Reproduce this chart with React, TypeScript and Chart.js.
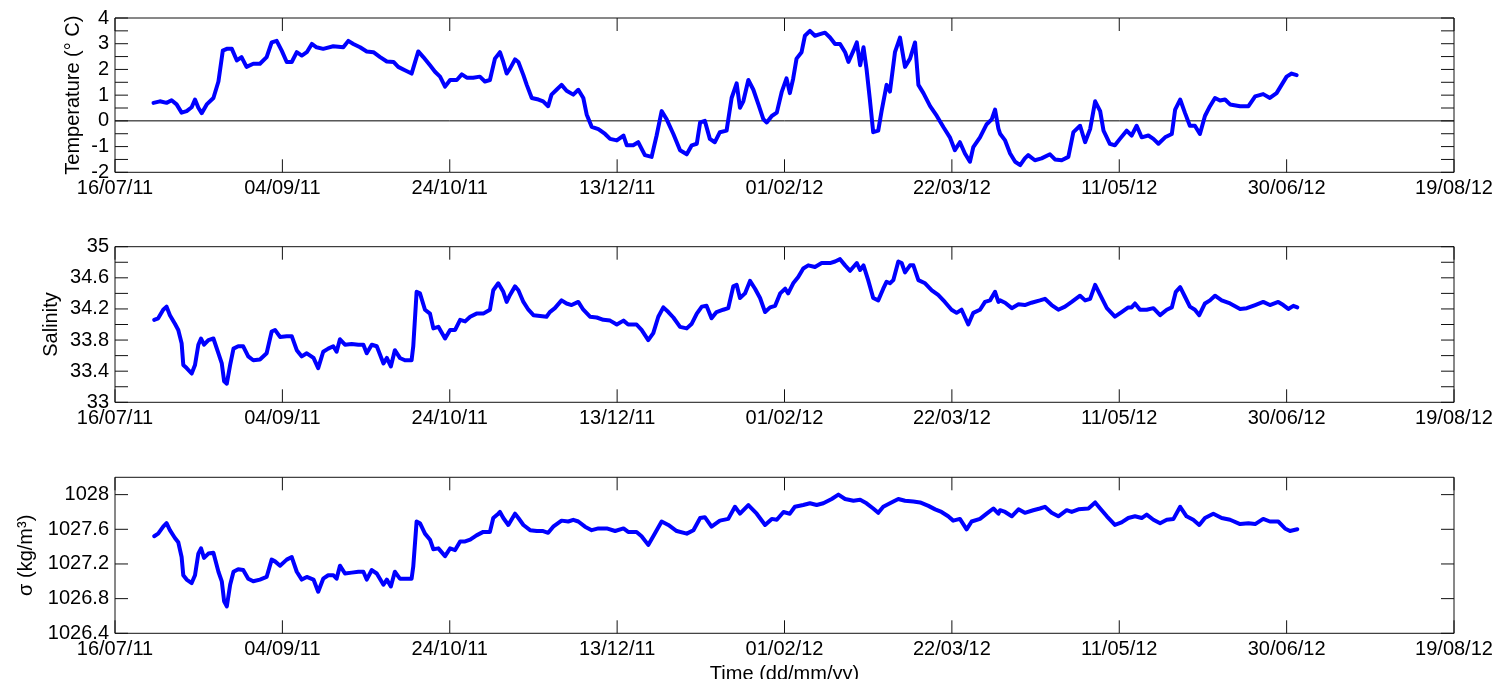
import React, { useEffect, useRef } from 'react';
import { Chart, registerables } from 'chart.js';

Chart.register(...registerables);

const FONT = "'Liberation Sans', Arial, Helvetica, sans-serif";

// x axis: days since 16/07/11
const xTickDays = [0, 50, 100, 150, 200, 250, 300, 350, 400];
const xTickLabels = ['16/07/11', '04/09/11', '24/10/11', '13/12/11', '01/02/12', '22/03/12', '11/05/12', '30/06/12', '19/08/12'];

const tempTickValues = [-2, -1.5, -1, -0.5, 0, 0.5, 1, 1.5, 2, 2.5, 3, 3.5, 4];
const tempTickLabels = ['-2', '', '-1', '', '0', '', '1', '', '2', '', '3', '', '4'];
const salTickValues = [33, 33.2, 33.4, 33.6, 33.8, 34, 34.2, 34.4, 34.6, 34.8, 35];
const salTickLabels = ['33', '', '33.4', '', '33.8', '', '34.2', '', '34.6', '', '35'];
const sigmaTickValues = [1026.4, 1026.8, 1027.2, 1027.6, 1028];
const sigmaTickLabels = ['1026.4', '1026.8', '1027.2', '1027.6', '1028'];

const tempDays = [
  11.5, 13.4, 15.4, 16.9, 18.4, 19.9, 21.4, 22.9, 23.9, 24.9,
  25.9, 27.4, 29.4, 30.9, 32.2, 33.4, 34.9, 36.4, 37.8, 39.3,
  41.3, 43.3, 45.3, 46.8, 48.3, 49.8, 51.3, 52.8, 54.3, 55.8,
  57.3, 58.8, 60.2, 62.2, 65.2, 68.2, 69.7, 71.2, 73.2, 75.2,
  77.2, 79.2, 81.2, 83.2, 84.6, 86.6, 88.6, 90.6, 92.1, 94.1,
  95.6, 97.1, 98.6, 100.1, 102.1, 103.6, 105.1, 107.0, 109.0, 110.5,
  112.0, 113.5, 115.0, 116.0, 117.0, 118.0, 119.5, 120.5, 122.0, 123.0,
  124.5, 126.5, 127.9, 129.4, 130.4, 131.9, 133.4, 134.9, 136.9, 138.4,
  139.9, 140.9, 142.4, 144.4, 146.4, 147.9, 149.9, 151.9, 152.9, 154.8,
  156.3, 158.3, 160.3, 161.8, 163.3, 164.8, 166.8, 168.8, 170.8, 172.3,
  173.8, 174.8, 176.2, 177.7, 179.2, 180.7, 182.7, 184.2, 185.7, 186.7,
  187.7, 189.2, 190.7, 192.2, 193.7, 194.7, 196.2, 197.7, 199.2, 200.6,
  201.6, 202.6, 203.6, 205.1, 206.1, 207.6, 209.1, 210.6, 212.1, 213.6,
  215.1, 216.6, 218.1, 219.1, 220.6, 221.6, 222.6, 223.6, 224.5, 225.5,
  226.5, 228.0, 229.0, 230.5, 231.5, 233.0, 234.5, 236.0, 237.5, 239.0,
  240.0, 241.5, 243.5, 245.5, 247.5, 249.4, 250.9, 252.4, 253.9, 255.4,
  256.4, 258.4, 260.4, 261.9, 262.9, 263.9, 264.4, 265.9, 267.4, 268.9,
  270.4, 271.8, 272.8, 274.8, 276.8, 279.3, 280.8, 282.8, 284.8, 286.3,
  288.3, 289.8, 291.3, 292.8, 294.3, 295.3, 297.2, 298.7, 300.2, 302.2,
  303.7, 305.2, 306.7, 308.7, 310.2, 311.7, 313.7, 315.7, 316.7, 318.2,
  319.6, 321.1, 322.6, 324.1, 325.6, 327.1, 328.6, 330.1, 331.6, 333.1,
  336.1, 338.6, 340.6, 343.0, 345.0, 347.0, 348.5, 350.0, 351.5, 353.0,
];
const tempValues = [
  0.70, 0.76, 0.70, 0.80, 0.64, 0.32, 0.38, 0.53, 0.83, 0.51,
  0.30, 0.64, 0.89, 1.53, 2.73, 2.80, 2.80, 2.35, 2.48, 2.10,
  2.22, 2.22, 2.48, 3.05, 3.11, 2.73, 2.29, 2.29, 2.67, 2.54,
  2.67, 2.99, 2.86, 2.80, 2.90, 2.86, 3.11, 2.99, 2.86, 2.70,
  2.67, 2.48, 2.31, 2.29, 2.10, 1.97, 1.84, 2.70, 2.48, 2.16,
  1.91, 1.72, 1.33, 1.59, 1.59, 1.81, 1.68, 1.68, 1.72, 1.53,
  1.59, 2.42, 2.67, 2.29, 1.84, 2.03, 2.39, 2.29, 1.78, 1.40,
  0.89, 0.83, 0.76, 0.57, 1.02, 1.21, 1.40, 1.17, 1.02, 1.21,
  0.89, 0.25, -0.23, -0.32, -0.51, -0.70, -0.76, -0.57, -0.95, -0.95,
  -0.83, -1.33, -1.40, -0.57, 0.38, 0.06, -0.51, -1.14, -1.30, -0.95,
  -0.89, -0.06, 0.00, -0.70, -0.83, -0.44, -0.38, 0.89, 1.46, 0.51,
  0.76, 1.59, 1.21, 0.64, 0.06, -0.06, 0.19, 0.32, 1.14, 1.65,
  1.08, 1.65, 2.42, 2.67, 3.31, 3.50, 3.31, 3.37, 3.43, 3.24,
  2.99, 2.99, 2.67, 2.29, 2.73, 3.05, 2.16, 2.86, 2.03, 0.83,
  -0.44, -0.38, 0.38, 1.40, 1.14, 2.67, 3.24, 2.10, 2.42, 3.05,
  1.40, 1.08, 0.57, 0.19, -0.25, -0.64, -1.14, -0.83, -1.27, -1.59,
  -1.02, -0.64, -0.13, 0.06, 0.44, -0.30, -0.50, -0.76, -1.27, -1.59,
  -1.72, -1.46, -1.33, -1.53, -1.46, -1.30, -1.50, -1.53, -1.40, -0.44,
  -0.19, -0.83, -0.32, 0.76, 0.38, -0.38, -0.89, -0.95, -0.70, -0.38,
  -0.57, -0.19, -0.64, -0.57, -0.70, -0.89, -0.64, -0.51, 0.44, 0.83,
  0.32, -0.19, -0.19, -0.51, 0.19, 0.57, 0.89, 0.79, 0.83, 0.64,
  0.57, 0.57, 0.95, 1.04, 0.89, 1.08, 1.40, 1.72, 1.84, 1.78,
];

const salDays = [
  11.7, 12.9, 14.4, 15.4, 16.4, 17.9, 18.9, 19.9, 20.4, 21.4,
  22.9, 23.9, 24.9, 25.7, 26.6, 27.9, 29.4, 30.9, 31.9, 32.6,
  33.4, 34.4, 35.4, 36.8, 38.3, 39.8, 41.3, 43.3, 45.3, 46.8,
  47.8, 49.3, 51.3, 52.8, 54.3, 55.8, 57.3, 59.3, 60.7, 62.2,
  63.7, 65.2, 66.2, 67.2, 68.7, 70.7, 72.7, 74.2, 75.2, 76.7,
  78.2, 80.2, 81.2, 82.4, 83.6, 85.1, 86.6, 88.6, 89.1, 90.1,
  91.1, 92.6, 94.1, 95.1, 96.6, 98.6, 100.1, 101.6, 103.1, 104.6,
  106.1, 108.0, 110.0, 112.0, 113.0, 114.5, 116.0, 117.0, 118.0, 119.5,
  120.5, 122.0, 123.5, 125.0, 127.0, 128.9, 129.9, 131.4, 133.4, 134.9,
  136.4, 138.4, 139.9, 141.9, 143.9, 145.9, 147.9, 149.9, 151.9, 153.3,
  155.8, 157.3, 159.3, 160.8, 162.3, 163.8, 165.3, 166.8, 168.8, 170.8,
  172.3, 173.8, 175.3, 176.7, 178.2, 179.7, 181.7, 183.2, 184.7, 185.7,
  186.7, 188.2, 189.7, 191.2, 192.7, 194.2, 195.7, 197.2, 198.7, 200.2,
  201.1, 202.6, 204.1, 205.6, 207.1, 209.1, 211.1, 213.6, 215.1, 216.6,
  218.1, 219.6, 221.6, 222.6, 223.6, 225.0, 226.5, 228.0, 229.5, 230.5,
  231.5, 232.5, 234.0, 235.0, 236.0, 237.5, 238.5, 240.0, 242.0, 244.0,
  245.9, 247.9, 249.9, 251.4, 252.9, 254.9, 256.4, 258.4, 259.9, 261.4,
  262.9, 263.9, 264.4, 265.9, 267.9, 269.9, 271.8, 273.8, 276.3, 277.8,
  279.8, 281.8, 283.8, 285.8, 288.3, 289.8, 291.3, 292.8, 294.3, 296.3,
  298.7, 300.7, 302.7, 303.7, 304.7, 306.2, 308.2, 310.2, 312.2, 314.2,
  315.7, 316.9, 318.2, 319.6, 321.1, 322.6, 323.9, 325.6, 327.1, 328.6,
  330.6, 333.1, 336.1, 338.1, 340.6, 343.0, 345.0, 347.5, 349.0, 350.5,
  352.0, 353.2,
];
const salValues = [
  34.06, 34.08, 34.19, 34.23, 34.12, 34.01, 33.93, 33.76, 33.48, 33.44,
  33.37, 33.48, 33.74, 33.82, 33.74, 33.80, 33.82, 33.63, 33.50, 33.27,
  33.24, 33.48, 33.69, 33.72, 33.72, 33.59, 33.54, 33.55, 33.63, 33.91,
  33.93, 33.84, 33.85, 33.85, 33.67, 33.59, 33.63, 33.57, 33.44, 33.65,
  33.69, 33.72, 33.65, 33.81, 33.74, 33.75, 33.74, 33.74, 33.63, 33.74,
  33.72, 33.50, 33.57, 33.46, 33.67, 33.57, 33.54, 33.54, 33.72, 34.42,
  34.40, 34.19, 34.14, 33.95, 33.97, 33.82, 33.93, 33.93, 34.06, 34.04,
  34.10, 34.14, 34.14, 34.19, 34.44, 34.53, 34.42, 34.29, 34.38, 34.49,
  34.44, 34.29, 34.19, 34.12, 34.11, 34.10, 34.16, 34.21, 34.31, 34.27,
  34.25, 34.29, 34.19, 34.10, 34.09, 34.06, 34.05, 34.00, 34.05, 34.00,
  34.00, 33.93, 33.80, 33.89, 34.10, 34.22, 34.16, 34.09, 33.97, 33.95,
  34.01, 34.14, 34.23, 34.24, 34.08, 34.16, 34.19, 34.21, 34.49, 34.51,
  34.34, 34.40, 34.56, 34.46, 34.34, 34.16, 34.22, 34.24, 34.40, 34.46,
  34.40, 34.53, 34.61, 34.72, 34.76, 34.74, 34.79, 34.79, 34.81, 34.84,
  34.76, 34.69, 34.79, 34.70, 34.76, 34.57, 34.34, 34.31, 34.46, 34.55,
  34.53, 34.57, 34.81, 34.79, 34.67, 34.76, 34.76, 34.57, 34.53, 34.44,
  34.38, 34.29, 34.19, 34.15, 34.19, 34.00, 34.15, 34.19, 34.29, 34.31,
  34.42, 34.29, 34.31, 34.28, 34.21, 34.26, 34.25, 34.28, 34.31, 34.33,
  34.25, 34.19, 34.23, 34.29, 34.37, 34.31, 34.33, 34.51, 34.38, 34.21,
  34.10, 34.16, 34.22, 34.22, 34.27, 34.19, 34.19, 34.21, 34.12, 34.19,
  34.22, 34.42, 34.48, 34.36, 34.23, 34.19, 34.12, 34.27, 34.31, 34.37,
  34.31, 34.27, 34.20, 34.21, 34.25, 34.29, 34.25, 34.29, 34.25, 34.20,
  34.24, 34.22,
];

const sigmaDays = [
  11.7, 12.9, 14.4, 15.4, 16.4, 17.9, 18.9, 19.9, 20.4, 21.4,
  22.9, 23.9, 24.9, 25.7, 26.6, 27.9, 29.4, 30.9, 31.9, 32.6,
  33.4, 34.4, 35.4, 36.8, 38.3, 39.8, 41.3, 43.3, 45.3, 46.8,
  47.8, 49.3, 51.3, 52.8, 54.3, 55.8, 57.3, 59.3, 60.7, 62.2,
  63.7, 65.2, 66.2, 67.2, 68.7, 70.7, 72.7, 74.2, 75.2, 76.7,
  78.2, 80.2, 81.2, 82.4, 83.6, 85.1, 86.6, 88.6, 89.1, 90.1,
  91.1, 92.6, 94.1, 95.1, 96.6, 98.6, 100.1, 101.6, 103.1, 104.6,
  106.1, 108.0, 110.0, 112.0, 113.0, 114.5,
  115.0, 116.0, 117.5, 119.5, 120.5, 122.0, 124.0, 126.0, 127.9, 129.4,
  130.9, 133.4, 135.4, 136.9, 138.4, 140.4, 142.4, 144.4, 146.9, 149.4,
  151.9, 153.3, 155.8, 157.3, 159.3, 160.8, 163.3, 165.3, 167.8, 170.8,
  172.8, 174.8, 176.2, 178.2, 180.7, 183.2, 185.2, 186.7, 189.2, 191.7,
  194.2, 196.2, 197.7, 199.7, 201.6, 203.1, 205.6, 207.6, 209.6, 211.6,
  214.1, 216.1, 218.1, 220.6, 222.6, 224.5, 226.5, 228.0, 229.5, 231.5,
  234.0, 236.0, 238.5, 240.5, 243.0, 245.0, 246.9, 248.9, 250.4, 252.4,
  254.4, 255.9, 258.4, 260.4, 262.4, 263.9,
  264.4, 265.9, 267.9, 269.9, 271.8, 274.3, 276.3, 277.8, 279.8, 281.8,
  284.3, 285.8, 287.8, 290.8, 292.8, 294.3, 296.3, 298.7, 300.7, 302.7,
  304.7, 306.7, 308.2, 310.2, 312.2, 314.2, 316.2, 318.2, 320.1, 322.1,
  323.9, 325.6, 328.1, 330.6, 333.1, 336.1, 338.6, 340.6, 343.0, 345.0,
  347.5, 349.5, 351.0, 353.2,
];
const sigmaValues = [
  1027.52, 1027.55, 1027.63, 1027.67, 1027.59, 1027.50, 1027.45, 1027.28, 1027.07, 1027.02,
  1026.98, 1027.07, 1027.32, 1027.38, 1027.27, 1027.32, 1027.33, 1027.11, 1027.00, 1026.77,
  1026.71, 1026.96, 1027.11, 1027.14, 1027.13, 1027.03, 1027.00, 1027.02, 1027.05, 1027.25,
  1027.23, 1027.18, 1027.25, 1027.28, 1027.11, 1027.02, 1027.05, 1027.02, 1026.88, 1027.03,
  1027.07, 1027.07, 1027.03, 1027.18, 1027.09, 1027.10, 1027.11, 1027.11, 1027.02, 1027.13,
  1027.09, 1026.96, 1027.02, 1026.94, 1027.11, 1027.03, 1027.03, 1027.03, 1027.17, 1027.69,
  1027.67, 1027.55, 1027.48, 1027.37, 1027.38, 1027.29, 1027.38, 1027.36, 1027.46, 1027.46,
  1027.48, 1027.53, 1027.57, 1027.57, 1027.73, 1027.78,
  1027.80, 1027.73, 1027.65, 1027.78, 1027.73, 1027.65, 1027.59, 1027.58, 1027.58, 1027.56,
  1027.63, 1027.70, 1027.69, 1027.71, 1027.69, 1027.63, 1027.59, 1027.61, 1027.61, 1027.58,
  1027.61, 1027.57, 1027.57, 1027.52, 1027.42, 1027.52, 1027.69, 1027.65, 1027.58, 1027.55,
  1027.59, 1027.73, 1027.74, 1027.63, 1027.70, 1027.72, 1027.86, 1027.78, 1027.88, 1027.78,
  1027.65, 1027.72, 1027.71, 1027.80, 1027.78, 1027.86, 1027.88, 1027.90, 1027.88, 1027.90,
  1027.95, 1028.00, 1027.95, 1027.93, 1027.94, 1027.90, 1027.84, 1027.79, 1027.86, 1027.90,
  1027.95, 1027.93, 1027.92, 1027.91, 1027.87, 1027.83, 1027.80, 1027.75, 1027.70, 1027.72,
  1027.60, 1027.69, 1027.72, 1027.78, 1027.84, 1027.78,
  1027.82, 1027.80, 1027.75, 1027.83, 1027.79, 1027.82, 1027.84, 1027.86, 1027.79, 1027.75,
  1027.82, 1027.80, 1027.83, 1027.84, 1027.91, 1027.84, 1027.75, 1027.65, 1027.68, 1027.73,
  1027.75, 1027.73, 1027.77, 1027.71, 1027.67, 1027.71, 1027.72, 1027.86, 1027.75, 1027.71,
  1027.65, 1027.73, 1027.78, 1027.73, 1027.71, 1027.66, 1027.67, 1027.66, 1027.72, 1027.69,
  1027.69, 1027.61, 1027.58, 1027.60,
];

const zeroLineDays = [0, 400];
const zeroLineValues = [0, 0];

const toPoints = (xs: number[], ys: number[]) => xs.map((x, i) => ({ x, y: ys[i] }));

const framePlugin = {
  id: 'matlabFrame',
  afterDatasetsDraw(chart: any) {
    const { ctx, chartArea: a, scales } = chart;
    const L = 13;
    ctx.save();
    ctx.strokeStyle = '#111';
    ctx.lineWidth = 1;
    ctx.beginPath();
    ctx.rect(a.left, a.top, a.right - a.left, a.bottom - a.top);
    for (const t of scales.x.ticks) {
      const px = scales.x.getPixelForValue(t.value);
      ctx.moveTo(px, a.bottom);
      ctx.lineTo(px, a.bottom - L);
      ctx.moveTo(px, a.top);
      ctx.lineTo(px, a.top + L);
    }
    for (const t of scales.y.ticks) {
      const py = scales.y.getPixelForValue(t.value);
      ctx.moveTo(a.left, py);
      ctx.lineTo(a.left + L, py);
      ctx.moveTo(a.right, py);
      ctx.lineTo(a.right - L, py);
    }
    ctx.stroke();
    ctx.restore();
  },
};

type PanelProps = {
  top: number;
  height: number;
  padTop: number;
  padLeft: number;
  xHeight: number;
  yMin: number;
  yMax: number;
  yTicks: number[];
  yLabels: string[];
  yTitle: string;
  days: number[];
  values: number[];
  showXTitle: boolean;
  zeroLine: boolean;
};

function Panel(p: PanelProps) {
  const ref = useRef<HTMLCanvasElement>(null);
  useEffect(() => {
    if (!ref.current) return;
    const font = { family: FONT, size: 20 };
    const datasets: any[] = [
      {
        data: toPoints(p.days, p.values),
        borderColor: '#0000ff',
        borderWidth: 4,
        pointRadius: 0,
        tension: 0,
        fill: false,
        borderJoinStyle: 'round',
        borderCapStyle: 'round',
      },
    ];
    if (p.zeroLine) {
      datasets.push({
        data: toPoints(zeroLineDays, zeroLineValues),
        borderColor: '#000',
        borderWidth: 1,
        pointRadius: 0,
        fill: false,
      });
    }
    const chart = new Chart(ref.current, {
      type: 'line',
      data: { datasets },
      options: {
        animation: false,
        responsive: false,
        maintainAspectRatio: false,
        events: [],
        layout: { padding: { top: p.padTop, left: p.padLeft, right: 50, bottom: 0 } },
        plugins: { legend: { display: false }, tooltip: { enabled: false } },
        scales: {
          x: {
            type: 'linear',
            min: 0,
            max: 400,
            afterBuildTicks: (s: any) => {
              s.ticks = xTickDays.map((v) => ({ value: v }));
            },
            afterFit: (s: any) => {
              s.height = p.xHeight;
            },
            grid: { display: false, drawTicks: false },
            border: { display: false },
            ticks: {
              font,
              color: '#000',
              padding: 4,
              maxRotation: 0,
              autoSkip: false,
              callback: (_v: any, i: number) => xTickLabels[i],
            },
            title: {
              display: p.showXTitle,
              text: 'Time (dd/mm/yy)',
              font,
              color: '#000',
              padding: { top: 0, bottom: 1 },
            },
          },
          y: {
            type: 'linear',
            min: p.yMin,
            max: p.yMax,
            afterBuildTicks: (s: any) => {
              s.ticks = p.yTicks.map((v) => ({ value: v }));
            },
            afterFit: (s: any) => {
              s.width = 115 - p.padLeft;
            },
            grid: { display: false, drawTicks: false },
            border: { display: false },
            ticks: {
              font,
              color: '#000',
              padding: 6,
              autoSkip: false,
              callback: (_v: any, i: number) => p.yLabels[i],
            },
            title: {
              display: true,
              text: p.yTitle,
              font,
              color: '#000',
              padding: { top: 0, bottom: 0 },
            },
          },
        },
      },
      plugins: [framePlugin],
    } as any);
    return () => chart.destroy();
  }, []);
  return (
    <canvas
      ref={ref}
      width={1504}
      height={p.height}
      style={{ position: 'absolute', left: 0, top: p.top, width: 1504, height: p.height }}
    />
  );
}

export default function App() {
  return (
    <div style={{ position: 'relative', width: 1504, height: 687, margin: -8, overflow: 'hidden', background: '#fff' }}>
      <Panel
        top={0}
        height={220}
        padTop={15}
        padLeft={61.5}
        xHeight={47.7}
        yMin={-2}
        yMax={4}
        yTicks={tempTickValues}
        yLabels={tempTickLabels}
        yTitle={'Temperature (° C)'}
        days={tempDays}
        values={tempValues}
        showXTitle={false}
        zeroLine={true}
      />
      <Panel
        top={220}
        height={230}
        padTop={26.7}
        padLeft={39}
        xHeight={47.7}
        yMin={33}
        yMax={35}
        yTicks={salTickValues}
        yLabels={salTickLabels}
        yTitle={'Salinity'}
        days={salDays}
        values={salValues}
        showXTitle={false}
        zeroLine={false}
      />
      <Panel
        top={450}
        height={237}
        padTop={27.3}
        padLeft={14.7}
        xHeight={53.7}
        yMin={1026.4}
        yMax={1028.2}
        yTicks={sigmaTickValues}
        yLabels={sigmaTickLabels}
        yTitle={'σ (kg/m³)'}
        days={sigmaDays}
        values={sigmaValues}
        showXTitle={true}
        zeroLine={false}
      />
    </div>
  );
}
